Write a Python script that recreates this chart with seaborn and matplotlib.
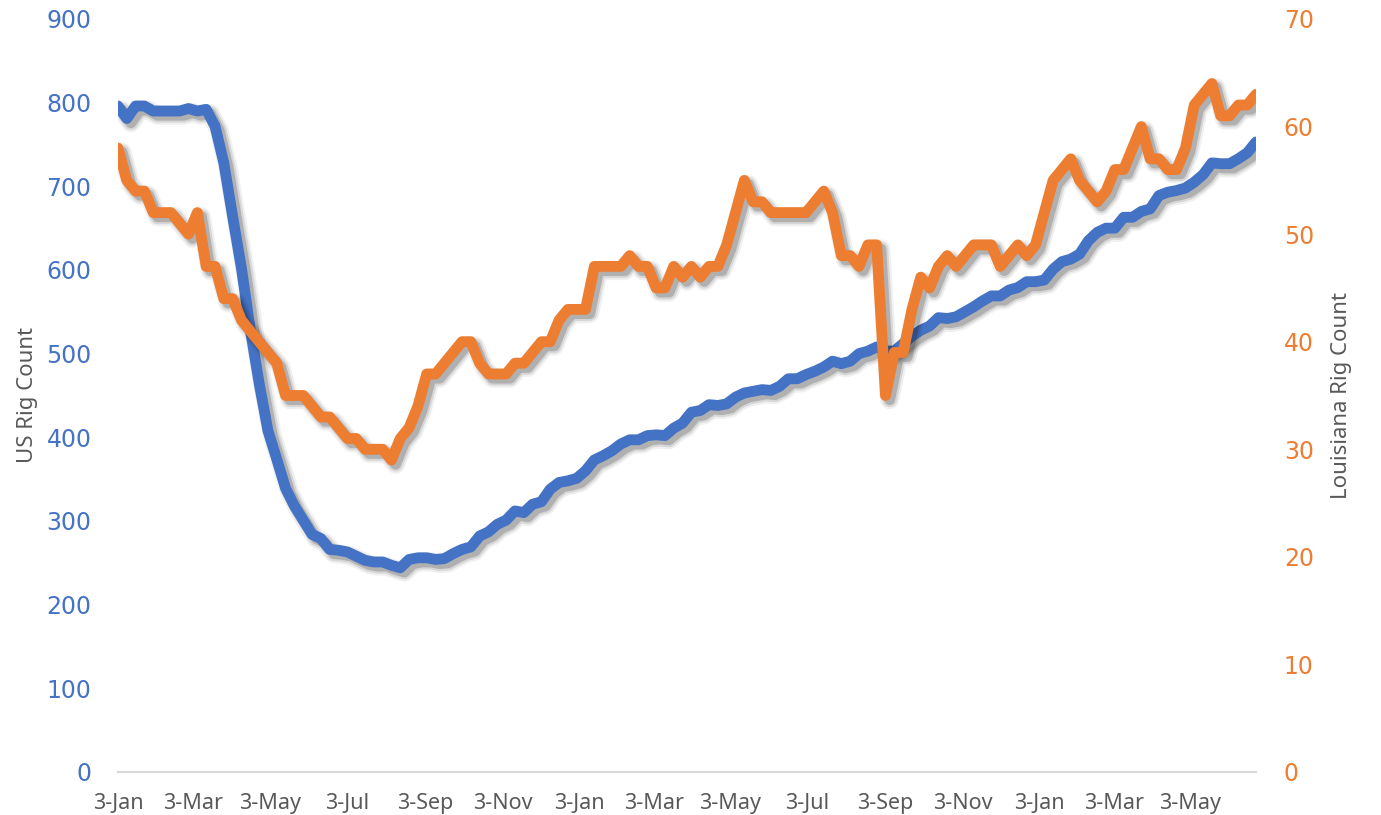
import pandas as pd
import numpy as np
import matplotlib.pyplot as plt
import matplotlib.dates as mdates
import matplotlib.patheffects as pe
import seaborn as sns

# Weekly rig counts, 3-Jan-2020 .. 24-Jun-2022
start_date = "2020-01-03"

us_rigs = [
    796, 781, 796, 796, 790, 790, 790, 790, 793, 790, 792, 772, 728, 664, 602, 529,
    465, 408, 374, 339, 318, 301, 284, 279, 266, 265, 263, 258, 253, 251, 251, 247,
    244, 254, 256, 256, 254, 255, 261, 266, 269, 282, 287, 296, 301, 312, 310, 320,
    323, 338, 346, 348, 351,
    360, 373, 378, 384, 392, 397, 397, 402, 403, 402, 411, 417, 430, 432, 439, 438,
    440, 448, 453, 455, 457, 456, 461, 470, 470, 475, 479, 484, 491, 488, 491, 500,
    503, 508, 503, 503, 512, 521, 528, 533, 543, 542, 544, 550, 556, 563, 569, 569,
    576, 579, 586, 586,
    588, 601, 610, 613, 619, 635, 645, 650, 650, 663, 663, 670, 673, 689, 693, 695,
    698, 705, 714, 728, 727, 727, 733, 740, 753,
]

la_rigs = [
    58, 55, 54, 54, 52, 52, 52, 51, 50, 52, 47, 47, 44, 44, 42, 41, 40, 39, 38, 35,
    35, 35, 34, 33, 33, 32, 31, 31, 30, 30, 30, 29, 31, 32, 34, 37, 37, 38, 39, 40,
    40, 38, 37, 37, 37, 38, 38, 39, 40, 40, 42, 43, 43, 43, 47, 47, 47, 47, 48, 47,
    47, 45, 45, 47, 46, 47, 46, 47, 47, 49, 52, 55, 53, 53, 52, 52, 52, 52, 52, 53,
    54, 52, 48, 48, 47, 49, 49, 35, 39, 39, 43, 46, 45, 47, 48, 47, 48, 49, 49, 49,
    47, 48, 49, 48, 49, 52, 55, 56, 57, 55, 54, 53, 54, 56, 56, 58, 60, 57, 57, 56,
    56, 58, 62, 63, 64, 61, 61, 62, 62, 63,
]

dates = pd.date_range(start_date, periods=len(us_rigs), freq="7D")
df = pd.DataFrame({"date": dates, "us": us_rigs, "la": la_rigs})

BLUE = "#4472C4"
ORANGE = "#ED7D31"
GREY = "#595959"

sns.set_style("white")
plt.rcParams["font.family"] = ["DejaVu Sans"]

fig = plt.figure(figsize=(13.81, 8.15), dpi=100)
ax = fig.add_axes([0.0854, 0.0528, 0.8241, 0.9239])
ax2 = ax.twinx()

# soft drop shadow, built from a few offset strokes
def shadow(lw):
    return [
        pe.SimpleLineShadow(offset=(3, -3), shadow_color="black", alpha=0.06, rho=1, linewidth=lw + 6),
        pe.SimpleLineShadow(offset=(3, -3), shadow_color="black", alpha=0.10, rho=1, linewidth=lw + 3),
        pe.SimpleLineShadow(offset=(3, -3), shadow_color="black", alpha=0.18, rho=1, linewidth=lw),
        pe.Normal(),
    ]

lw = 7.8
sns.lineplot(data=df, x="date", y="us", ax=ax, color=BLUE, linewidth=lw,
             path_effects=shadow(lw), solid_joinstyle="round", solid_capstyle="round")
sns.lineplot(data=df, x="date", y="la", ax=ax2, color=ORANGE, linewidth=lw,
             path_effects=shadow(lw), solid_joinstyle="round", solid_capstyle="round")

ax.set_xlim(dates[0], dates[-1])
ax.set_ylim(0, 900)
ax2.set_ylim(0, 70)
ax.set_yticks(range(0, 901, 100))
ax2.set_yticks(range(0, 71, 10))

ax.xaxis.set_major_locator(mdates.MonthLocator(bymonth=[1, 3, 5, 7, 9, 11], bymonthday=3))
ax.xaxis.set_major_formatter(mdates.DateFormatter("%-d-%b"))

for a in (ax, ax2):
    for s in ("top", "left", "right"):
        a.spines[s].set_visible(False)
    a.spines["bottom"].set_color("#D9D9D9")
    a.spines["bottom"].set_linewidth(1.5)

ax.tick_params(axis="x", colors="#D9D9D9", length=6, width=1.2, pad=9, labelsize=15.5,
               labelcolor=GREY)
ax.tick_params(axis="y", length=0, pad=19, labelsize=17, labelcolor=BLUE)
ax2.tick_params(axis="y", length=0, pad=20, labelsize=17, labelcolor=ORANGE)
for lab in ax.get_xticklabels():
    lab.set_family("Noto Sans")

ax.set_xlabel("")
ax.set_ylabel("US Rig Count", fontsize=16, color=GREY, family="Noto Sans", labelpad=6)
ax2.set_ylabel("Louisiana Rig Count", fontsize=16, color=GREY, family="Noto Sans", labelpad=12)

fig.savefig("out.png", dpi=100)
